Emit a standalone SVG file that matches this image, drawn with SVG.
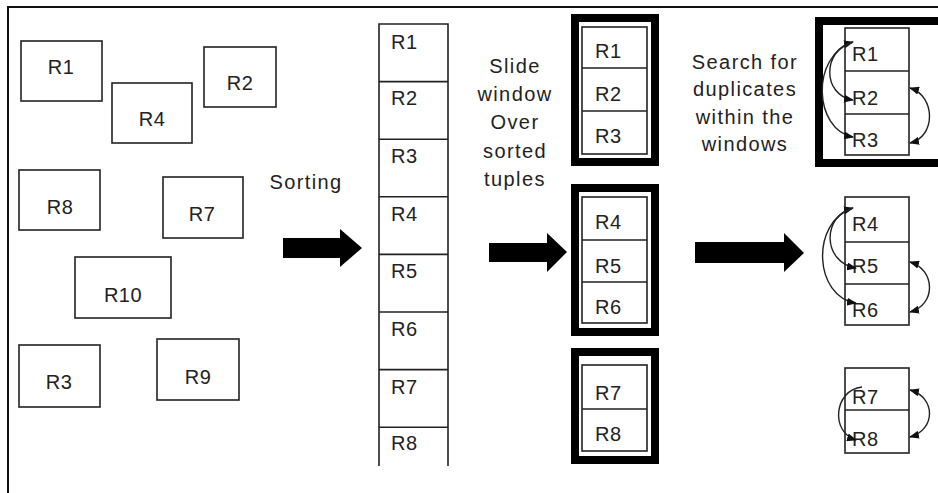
<svg xmlns="http://www.w3.org/2000/svg" width="938" height="493" viewBox="0 0 938 493">
  <defs>
    <marker id="tip" viewBox="0 0 10 8" refX="9" refY="4" markerWidth="10" markerHeight="8" markerUnits="userSpaceOnUse" orient="auto-start-reverse">
      <path d="M0,0 L10,4 L0,8 Z" fill="#111"/>
    </marker>
    <style>
      .box { fill: #fff; stroke: #222; stroke-width: 1.6; }
      .cell { fill: none; stroke: #222; stroke-width: 1.6; }
      .win { fill: #fff; stroke: #000; stroke-width: 8; }
      .lbl { font-family: "Liberation Sans", Arial, sans-serif; font-size: 20px; fill: #222; letter-spacing: 0.5px; }
      .mid { text-anchor: middle; }
      .cap { font-family: "Liberation Sans", Arial, sans-serif; font-size: 20px; fill: #222; text-anchor: middle; letter-spacing: 1.4px; }
      .big { fill: #000; }
      .arc { fill: none; stroke: #222; stroke-width: 1.4; }
    </style>
  </defs>

  <!-- outer frame -->
  <rect x="8" y="7" width="940" height="500" fill="#fff" stroke="#111" stroke-width="2"/>

  <!-- unsorted records -->
  <g id="u-r1"><rect class="box" x="21" y="41" width="81" height="60"/><text class="lbl mid" x="61" y="74">R1</text></g>
  <g id="u-r4"><rect class="box" x="112" y="83" width="80" height="60"/><text class="lbl mid" x="152" y="126">R4</text></g>
  <g id="u-r2"><rect class="box" x="204" y="47" width="72" height="60"/><text class="lbl mid" x="240" y="90">R2</text></g>
  <g id="u-r8"><rect class="box" x="19" y="170" width="81" height="60"/><text class="lbl mid" x="60" y="214">R8</text></g>
  <g id="u-r7"><rect class="box" x="163" y="177" width="80" height="61"/><text class="lbl mid" x="202" y="221">R7</text></g>
  <g id="u-r10"><rect class="box" x="75" y="257" width="96" height="61"/><text class="lbl mid" x="123" y="302">R10</text></g>
  <g id="u-r3"><rect class="box" x="19" y="345" width="81" height="62"/><text class="lbl mid" x="59" y="389">R3</text></g>
  <g id="u-r9"><rect class="box" x="157" y="339" width="82" height="61"/><text class="lbl mid" x="198" y="384">R9</text></g>

  <!-- step labels -->
  <text class="cap" x="306" y="189">Sorting</text>
  <g id="slide-label">
    <text class="cap" x="515" y="73">Slide</text>
    <text class="cap" x="515" y="101">window</text>
    <text class="cap" x="515" y="129">Over</text>
    <text class="cap" x="515" y="158">sorted</text>
    <text class="cap" x="515" y="186">tuples</text>
  </g>
  <g id="search-label">
    <text class="cap" x="745" y="69">Search for</text>
    <text class="cap" x="745" y="96">duplicates</text>
    <text class="cap" x="745" y="124">within the</text>
    <text class="cap" x="745" y="151">windows</text>
  </g>

  <!-- sorted column -->
  <g id="sorted">
    <path class="cell" d="M379,466 V24 H448 V466 M379,81.6 H448 M379,139.2 H448 M379,196.8 H448 M379,254.4 H448 M379,312 H448 M379,369.6 H448 M379,427.2 H448"/>
    <text class="lbl" x="391" y="49">R1</text>
    <text class="lbl" x="391" y="105">R2</text>
    <text class="lbl" x="391" y="163">R3</text>
    <text class="lbl" x="391" y="221">R4</text>
    <text class="lbl" x="391" y="278">R5</text>
    <text class="lbl" x="391" y="336">R6</text>
    <text class="lbl" x="391" y="394">R7</text>
    <text class="lbl" x="391" y="450">R8</text>
  </g>

  <!-- sliding windows -->
  <g id="win1">
    <rect class="win" x="575" y="18" width="80" height="144"/>
    <rect class="box" x="582" y="27" width="65" height="127"/>
    <path class="cell" d="M582,68 H647 M582,111 H647"/>
    <text class="lbl" x="595" y="58">R1</text>
    <text class="lbl" x="595" y="101">R2</text>
    <text class="lbl" x="595" y="143">R3</text>
  </g>
  <g id="win2">
    <rect class="win" x="575" y="188" width="80" height="144"/>
    <rect class="box" x="582" y="197" width="65" height="126"/>
    <path class="cell" d="M582,240 H647 M582,282 H647"/>
    <text class="lbl" x="595" y="229">R4</text>
    <text class="lbl" x="595" y="273">R5</text>
    <text class="lbl" x="595" y="314">R6</text>
  </g>
  <g id="win3">
    <rect class="win" x="575" y="352" width="80" height="108"/>
    <rect class="box" x="582" y="365" width="65" height="86"/>
    <path class="cell" d="M582,409 H647"/>
    <text class="lbl" x="595" y="400">R7</text>
    <text class="lbl" x="595" y="441">R8</text>
  </g>

  <!-- duplicate search groups -->
  <g id="dup1">
    <rect class="win" x="819" y="21" width="140" height="142"/>
    <rect class="box" x="845" y="28" width="64" height="127"/>
    <path class="cell" d="M845,71 H909 M845,114 H909"/>
    <text class="lbl" x="852" y="61">R1</text>
    <text class="lbl" x="852" y="105">R2</text>
    <text class="lbl" x="852" y="147">R3</text>
  </g>
  <g id="dup2">
    <rect class="box" x="845" y="197" width="64" height="128"/>
    <path class="cell" d="M845,242 H909 M845,284 H909"/>
    <text class="lbl" x="852" y="231">R4</text>
    <text class="lbl" x="852" y="273">R5</text>
    <text class="lbl" x="852" y="317">R6</text>
  </g>
  <g id="dup3">
    <rect class="box" x="845" y="368" width="64" height="85"/>
    <path class="cell" d="M845,410 H909"/>
    <text class="lbl" x="852" y="404">R7</text>
    <text class="lbl" x="852" y="446">R8</text>
  </g>

  <!-- connectors -->
  <g id="connectors">
    <polygon class="big" points="283,238 340,238 340,229 362,248 340,267 340,258 283,258"/>
    <polygon class="big" points="489,243 547,243 547,233 567,252 547,272 547,262 489,262"/>
    <polygon class="big" points="695,242 784,242 784,233 804,253 784,272 784,263 695,263"/>

    <path class="arc" d="M853,42 C822,50 822,95 853,100" marker-start="url(#tip)" marker-end="url(#tip)"/>
    <path class="arc" d="M853,42 C810,56 814,130 853,137" marker-end="url(#tip)"/>
    <path class="arc" d="M910,88 C936,96 936,137 910,143" marker-start="url(#tip)" marker-end="url(#tip)"/>

    <path class="arc" d="M853,208 C822,216 822,262 856,268" marker-start="url(#tip)" marker-end="url(#tip)"/>
    <path class="arc" d="M853,208 C810,222 814,297 856,303" marker-end="url(#tip)"/>
    <path class="arc" d="M910,262 C936,270 936,305 910,312" marker-start="url(#tip)" marker-end="url(#tip)"/>

    <path class="arc" d="M862,387 C834,390 830,432 856,440" marker-end="url(#tip)"/>
    <path class="arc" d="M910,390 C936,397 936,430 910,437" marker-start="url(#tip)" marker-end="url(#tip)"/>
  </g>
</svg>
